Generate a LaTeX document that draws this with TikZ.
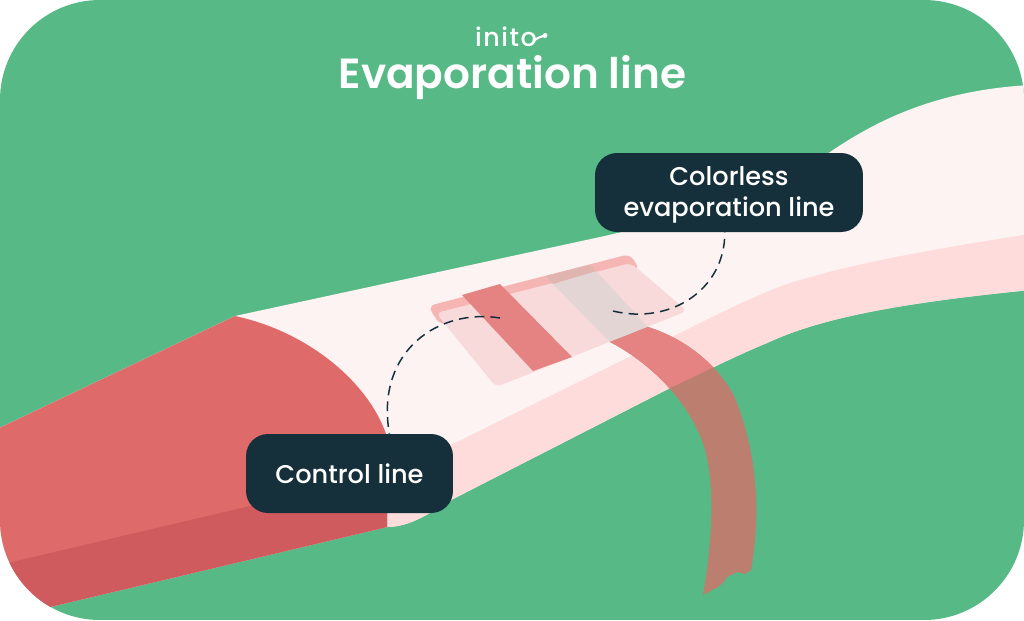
\documentclass[tikz,border=0pt]{standalone}
\usepackage{xcolor}
\usepackage{fontspec}
\setmainfont{Poppins}
\newfontfamily\logofont[LetterSpace=6]{Poppins Medium}
\newfontfamily\labelfont{Poppins Medium}
\newfontfamily\titlefont{Poppins SemiBold}
\usetikzlibrary{positioning}
\definecolor{bggreen}{HTML}{57B985}
\definecolor{capred}{HTML}{DF6A6A}
\definecolor{capdark}{HTML}{D05B5E}
\definecolor{stickpale}{HTML}{FDF3F2}
\definecolor{stickpink}{HTML}{FDDCDB}
\definecolor{windowedge}{HTML}{F5B5B2}
\definecolor{windowlight}{HTML}{F8DADB}
\definecolor{linered}{HTML}{E58383}
\definecolor{linegray}{HTML}{E2D5D3}
\definecolor{grayedge}{HTML}{E0B5B0}
\definecolor{ribbonover}{HTML}{BC7E6F}
\definecolor{labelbg}{HTML}{15303B}
\tikzset{
  calloutlabel/.style={fill=labelbg, text=white, rounded corners=0.44cm,
    align=center, inner sep=0pt, font=\labelfont\fontsize{14.6}{17.5}\selectfont},
  leaderline/.style={dashed, dash pattern=on 5.5pt off 3.5pt, line width=0.85pt, labelbg}
}
\def\ribbonpath{(610, 342) .. controls (645, 360) and (685, 395) .. (703, 443)
  .. controls (712, 470) and (716, 520) .. (703, 595)
  -- (712, 590) -- (718, 587) -- (723, 583) -- (727, 577) -- (735, 573)
  -- (738, 572) -- (745, 574) -- (751, 570)
  .. controls (758, 530) and (762, 470) .. (737, 403)
  .. controls (725, 372) and (690, 340) .. (648, 327) -- cycle}
\def\stickbottom{.. controls (900, 303) and (820, 318) .. (767, 343)
  .. controls (735, 356) and (700, 374) .. (670, 388)
  -- (453, 499) .. controls (430, 513) and (410, 527) .. (387, 527)}
\def\stickpath{(-5, 430) -- (235, 316) -- (600, 237)
  .. controls (700, 215) and (780, 185) .. (830, 152)
  .. controls (880, 118) and (940, 90) .. (1030, 85)
  -- (1030, 290) \stickbottom -- (-5, 620) -- cycle}
\begin{document}
\begin{tikzpicture}[x=0.02cm, y=-0.02cm]
    \useasboundingbox (0, 0) rectangle (1024, 620);
    \clip [rounded corners=2cm] (0, 0) rectangle (1024, 620);
    \fill [bggreen] (0, 0) rectangle (1024, 620);

    \fill [stickpale] \stickpath;
    \fill [stickpink] (380, 480) -- (623, 360) -- (680, 333)
    .. controls (720, 313) and (770, 288) .. (800, 280)
    .. controls (860, 262) and (940, 248) .. (1030, 234)
    -- (1030, 290) \stickbottom -- cycle;

    \fill [capred] (-5, 430) -- (235, 316)
    .. controls (310, 332) and (372, 385) .. (388, 440)
    -- (387, 527) -- (-5, 620) -- cycle;
    \fill [capdark] (-5, 566) -- (250, 506) -- (388, 473)
    -- (387, 527) -- (-5, 620) -- cycle;

    \fill [windowedge, rounded corners=0.14cm] (428, 306) -- (630, 254)
    -- (640, 270) -- (440, 325) -- cycle;
    \fill [windowlight, rounded corners=0.12cm] (436, 313) -- (631, 263)
    -- (687, 311) -- (496, 387) -- cycle;
    \fill [linegray] (553, 284) -- (596, 271) -- (648, 327) -- (610, 342) -- cycle;
    \fill [grayedge] (546, 276) -- (590, 265) -- (596, 271) -- (553, 284) -- cycle;
    \fill [linered] (462, 295) -- (500, 284) -- (572, 357) -- (533, 371) -- cycle;

    \fill [ribbonover] \ribbonpath;
    \begin{scope}
      \clip \stickpath;
      \fill [linered] \ribbonpath;
    \end{scope}

    \node [white] (logotext) at (506, 37)
    {\logofont\fontsize{14.5}{16}\selectfont inito};
    \coordinate (logodot) at (545, 35.5);
    \draw [white, line width=1.2pt, line cap=round]
    (533, 42) .. controls (536, 38) and (540, 37) .. (logodot);
    \fill [white] (logodot) circle (2.5);

    \node [white] (title) at (512.5, 77.5)
    {\titlefont\fontsize{24}{26}\selectfont Evaporation line};

    \coordinate (controlend) at (500, 318);
    \coordinate (colorlessend) at (613, 311);
    \node [calloutlabel, minimum width=4.14cm, minimum height=1.58cm]
    (controllabel) at (349.5, 473.5) {Control line};
    \node [calloutlabel, minimum width=5.36cm, minimum height=1.58cm]
    (colorlesslabel) at (729, 192.5) {\rule{0pt}{13.5pt}Colorless\\evaporation line};

    \draw [leaderline] (controlend) .. controls (440, 308) and (375, 350) .. (controllabel.45);
    \draw [leaderline] (colorlessend) .. controls (670, 325) and (725, 290) .. (colorlesslabel.-96);
\end{tikzpicture}
\end{document}
